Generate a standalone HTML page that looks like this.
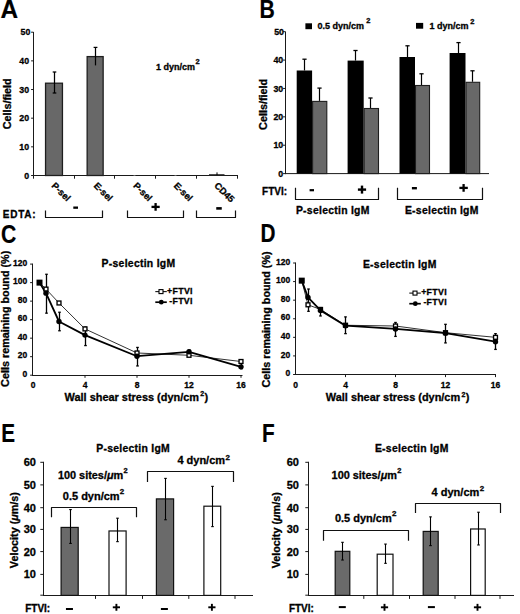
<!DOCTYPE html>
<html><head><meta charset="utf-8"><style>
html,body{margin:0;padding:0;background:#fff;}
body{width:520px;height:614px;overflow:hidden;}
svg{display:block;}
text{font-family:"Liberation Sans", sans-serif;font-weight:bold;fill:#000;stroke:#000;stroke-width:0.3px;}
text.big{stroke-width:0.2px;}
</style></head><body>
<svg width="520" height="614" viewBox="0 0 520 614">
<rect x="0" y="0" width="520" height="614" fill="#fff"/>
<text x="0.4" y="17.8" font-size="25" textLength="17.60" lengthAdjust="spacingAndGlyphs" class="big">A</text>
<line x1="33.50" y1="32.00" x2="33.50" y2="176.00" stroke="#1a1a1a" stroke-width="1.0"/>
<line x1="31.10" y1="175.50" x2="33.50" y2="175.50" stroke="#1a1a1a" stroke-width="1.0"/>
<text x="29.1" y="178.6" font-size="8.8" text-anchor="end">0</text>
<line x1="31.10" y1="146.84" x2="33.50" y2="146.84" stroke="#1a1a1a" stroke-width="1.0"/>
<text x="29.1" y="149.94" font-size="8.8" text-anchor="end">10</text>
<line x1="31.10" y1="118.18" x2="33.50" y2="118.18" stroke="#1a1a1a" stroke-width="1.0"/>
<text x="29.1" y="121.28" font-size="8.8" text-anchor="end">20</text>
<line x1="31.10" y1="89.52" x2="33.50" y2="89.52" stroke="#1a1a1a" stroke-width="1.0"/>
<text x="29.1" y="92.62" font-size="8.8" text-anchor="end">30</text>
<line x1="31.10" y1="60.86" x2="33.50" y2="60.86" stroke="#1a1a1a" stroke-width="1.0"/>
<text x="29.1" y="63.96" font-size="8.8" text-anchor="end">40</text>
<line x1="31.10" y1="32.20" x2="33.50" y2="32.20" stroke="#1a1a1a" stroke-width="1.0"/>
<text x="30.3" y="35.3" font-size="8.8" text-anchor="end">50</text>
<text x="11.0" y="103.8" font-size="10.8" text-anchor="middle" transform="rotate(-90 11.0 103.8)">Cells/field</text>
<line x1="33.00" y1="175.50" x2="238.00" y2="175.50" stroke="#1a1a1a" stroke-width="1.0"/>
<line x1="33.50" y1="175.50" x2="33.50" y2="178.70" stroke="#1a1a1a" stroke-width="1.0"/>
<line x1="74.50" y1="175.50" x2="74.50" y2="178.70" stroke="#1a1a1a" stroke-width="1.0"/>
<line x1="114.50" y1="175.50" x2="114.50" y2="178.70" stroke="#1a1a1a" stroke-width="1.0"/>
<line x1="155.50" y1="175.50" x2="155.50" y2="178.70" stroke="#1a1a1a" stroke-width="1.0"/>
<line x1="196.50" y1="175.50" x2="196.50" y2="178.70" stroke="#1a1a1a" stroke-width="1.0"/>
<line x1="237.50" y1="175.50" x2="237.50" y2="178.70" stroke="#1a1a1a" stroke-width="1.0"/>
<rect x="45.55" y="83.20" width="16.90" height="92.30" fill="#686868" stroke="#1e1e1e" stroke-width="1.3"/>
<rect x="87.15" y="56.60" width="16.00" height="118.90" fill="#686868" stroke="#1e1e1e" stroke-width="1.3"/>
<rect x="133.50" y="175.00" width="2.00" height="0.80" fill="#777"/>
<rect x="174.50" y="175.00" width="2.00" height="0.80" fill="#777"/>
<rect x="209.00" y="174.20" width="15.50" height="1.40" fill="#222"/>
<line x1="54.50" y1="72.00" x2="54.50" y2="93.00" stroke="#000" stroke-width="1.25"/>
<line x1="52.70" y1="72.00" x2="56.30" y2="72.00" stroke="#000" stroke-width="1.25"/>
<line x1="52.70" y1="93.00" x2="56.30" y2="93.00" stroke="#000" stroke-width="1.25"/>
<line x1="95.50" y1="47.40" x2="95.50" y2="65.40" stroke="#000" stroke-width="1.25"/>
<line x1="93.60" y1="47.40" x2="97.40" y2="47.40" stroke="#000" stroke-width="1.25"/>
<line x1="217.00" y1="172.40" x2="217.00" y2="175.00" stroke="#000" stroke-width="1.0"/>
<text x="51.0" y="186.2" font-size="9.3" transform="rotate(45 51.0 186.2)">P-sel</text>
<text x="93.2" y="186.2" font-size="9.3" transform="rotate(45 93.2 186.2)">E-sel</text>
<text x="132.7" y="186.2" font-size="9.3" transform="rotate(45 132.7 186.2)">P-sel</text>
<text x="173.2" y="186.2" font-size="9.3" transform="rotate(45 173.2 186.2)">E-sel</text>
<text x="213.8" y="186.2" font-size="9.3" transform="rotate(45 213.8 186.2)">CD45</text>
<text x="156.1" y="69.7" font-size="9">1 dyn/cm<tspan font-size="7.5" dx="0.4" dy="-5.3" letter-spacing="0">2</tspan></text>
<text x="2.8" y="218.1" font-size="10" letter-spacing="0.75">EDTA:</text>
<polyline points="45.50,210.40 45.50,217.50 102.50,217.50 102.50,210.40" fill="none" stroke="#111" stroke-width="1.2" stroke-linejoin="round"/>
<polyline points="127.50,210.40 127.50,217.50 183.50,217.50 183.50,210.40" fill="none" stroke="#111" stroke-width="1.2" stroke-linejoin="round"/>
<polyline points="196.50,210.40 196.50,217.50 235.50,217.50 235.50,210.40" fill="none" stroke="#111" stroke-width="1.2" stroke-linejoin="round"/>
<rect x="73.30" y="206.50" width="4.70" height="2.30" fill="#000"/>
<rect x="151.50" y="205.75" width="8.20" height="2.30" fill="#000"/>
<rect x="154.45" y="203.05" width="2.30" height="7.70" fill="#000"/>
<rect x="216.25" y="207.10" width="5.50" height="2.60" fill="#000"/>
<text x="259.5" y="17.9" font-size="25" textLength="15.30" lengthAdjust="spacingAndGlyphs" class="big">B</text>
<rect x="305.40" y="23.30" width="6.60" height="5.90" fill="#000"/>
<text x="317.6" y="28.6" font-size="9">0.5 dyn/cm<tspan font-size="7.5" dx="2.2" dy="-5.2" letter-spacing="0">2</tspan></text>
<rect x="416.00" y="22.90" width="7.20" height="5.80" fill="#000"/>
<text x="429.4" y="28.6" font-size="9">1 dyn/cm<tspan font-size="7.5" dx="1.8" dy="-4.2" letter-spacing="0">2</tspan></text>
<line x1="285.50" y1="31.60" x2="285.50" y2="174.10" stroke="#1a1a1a" stroke-width="1.0"/>
<line x1="283.10" y1="173.60" x2="285.50" y2="173.60" stroke="#1a1a1a" stroke-width="1.0"/>
<text x="283.2" y="176.7" font-size="8.8" text-anchor="end">0</text>
<line x1="283.10" y1="145.22" x2="285.50" y2="145.22" stroke="#1a1a1a" stroke-width="1.0"/>
<text x="283.2" y="148.32" font-size="8.8" text-anchor="end">10</text>
<line x1="283.10" y1="116.84" x2="285.50" y2="116.84" stroke="#1a1a1a" stroke-width="1.0"/>
<text x="283.2" y="119.94" font-size="8.8" text-anchor="end">20</text>
<line x1="283.10" y1="88.46" x2="285.50" y2="88.46" stroke="#1a1a1a" stroke-width="1.0"/>
<text x="283.2" y="91.56" font-size="8.8" text-anchor="end">30</text>
<line x1="283.10" y1="60.08" x2="285.50" y2="60.08" stroke="#1a1a1a" stroke-width="1.0"/>
<text x="283.2" y="63.18" font-size="8.8" text-anchor="end">40</text>
<line x1="283.10" y1="31.70" x2="285.50" y2="31.70" stroke="#1a1a1a" stroke-width="1.0"/>
<text x="284.0" y="34.8" font-size="8.8" text-anchor="end">50</text>
<text x="267.5" y="104.4" font-size="10.8" text-anchor="middle" transform="rotate(-90 267.5 104.4)">Cells/field</text>
<line x1="285.00" y1="173.60" x2="489.00" y2="173.60" stroke="#1a1a1a" stroke-width="1.0"/>
<line x1="304.50" y1="59.20" x2="304.50" y2="70.50" stroke="#000" stroke-width="1.2"/>
<line x1="302.40" y1="59.20" x2="306.60" y2="59.20" stroke="#000" stroke-width="1.3"/>
<line x1="319.50" y1="88.10" x2="319.50" y2="100.90" stroke="#000" stroke-width="1.2"/>
<line x1="317.40" y1="88.10" x2="321.60" y2="88.10" stroke="#000" stroke-width="1.3"/>
<line x1="355.50" y1="50.50" x2="355.50" y2="60.60" stroke="#000" stroke-width="1.2"/>
<line x1="353.40" y1="50.50" x2="357.60" y2="50.50" stroke="#000" stroke-width="1.3"/>
<line x1="370.50" y1="98.00" x2="370.50" y2="108.00" stroke="#000" stroke-width="1.2"/>
<line x1="368.40" y1="98.00" x2="372.60" y2="98.00" stroke="#000" stroke-width="1.3"/>
<line x1="407.50" y1="45.80" x2="407.50" y2="57.00" stroke="#000" stroke-width="1.2"/>
<line x1="405.40" y1="45.80" x2="409.60" y2="45.80" stroke="#000" stroke-width="1.3"/>
<line x1="421.50" y1="73.80" x2="421.50" y2="85.00" stroke="#000" stroke-width="1.2"/>
<line x1="419.40" y1="73.80" x2="423.60" y2="73.80" stroke="#000" stroke-width="1.3"/>
<line x1="458.50" y1="42.60" x2="458.50" y2="53.00" stroke="#000" stroke-width="1.2"/>
<line x1="456.40" y1="42.60" x2="460.60" y2="42.60" stroke="#000" stroke-width="1.3"/>
<line x1="472.50" y1="70.80" x2="472.50" y2="81.80" stroke="#000" stroke-width="1.2"/>
<line x1="470.40" y1="70.80" x2="474.60" y2="70.80" stroke="#000" stroke-width="1.3"/>
<rect x="296.70" y="70.50" width="15.40" height="103.10" fill="#000"/>
<rect x="312.60" y="101.40" width="14.20" height="72.20" fill="#686868" stroke="#1e1e1e" stroke-width="1.1"/>
<rect x="347.60" y="60.60" width="16.10" height="113.00" fill="#000"/>
<rect x="364.20" y="108.50" width="14.30" height="65.10" fill="#686868" stroke="#1e1e1e" stroke-width="1.1"/>
<rect x="399.50" y="57.00" width="15.50" height="116.60" fill="#000"/>
<rect x="415.50" y="85.50" width="14.00" height="88.10" fill="#686868" stroke="#1e1e1e" stroke-width="1.1"/>
<rect x="449.60" y="53.00" width="15.90" height="120.60" fill="#000"/>
<rect x="466.00" y="82.30" width="13.70" height="91.30" fill="#686868" stroke="#1e1e1e" stroke-width="1.1"/>
<text x="262.1" y="194.6" font-size="10">FTVI:</text>
<polyline points="295.50,187.70 295.50,199.50 378.50,199.50 378.50,187.70" fill="none" stroke="#111" stroke-width="1.2" stroke-linejoin="round"/>
<polyline points="397.50,187.70 397.50,199.50 482.50,199.50 482.50,187.70" fill="none" stroke="#111" stroke-width="1.2" stroke-linejoin="round"/>
<rect x="309.60" y="189.10" width="4.40" height="2.20" fill="#000"/>
<rect x="357.90" y="188.40" width="8.20" height="2.40" fill="#000"/>
<rect x="360.80" y="185.60" width="2.40" height="8.00" fill="#000"/>
<rect x="411.90" y="187.00" width="5.00" height="2.40" fill="#000"/>
<rect x="459.40" y="186.75" width="8.40" height="2.30" fill="#000"/>
<rect x="462.45" y="184.05" width="2.30" height="7.70" fill="#000"/>
<text x="295.9" y="213.9" font-size="10.4" letter-spacing="0.28">P-selectin IgM</text>
<text x="404.9" y="213.9" font-size="10.4" letter-spacing="0.28">E-selectin IgM</text>
<text x="0.9" y="243.3" font-size="25" textLength="15.30" lengthAdjust="spacingAndGlyphs" class="big">C</text>
<line x1="32.50" y1="263.60" x2="32.50" y2="375.70" stroke="#1a1a1a" stroke-width="1.0"/>
<line x1="30.10" y1="375.20" x2="32.50" y2="375.20" stroke="#1a1a1a" stroke-width="1.0"/>
<text x="27.3" y="376.8" font-size="8.5" text-anchor="end">0</text>
<line x1="30.10" y1="356.68" x2="32.50" y2="356.68" stroke="#1a1a1a" stroke-width="1.0"/>
<text x="27.3" y="358.28" font-size="8.5" text-anchor="end">20</text>
<line x1="30.10" y1="338.17" x2="32.50" y2="338.17" stroke="#1a1a1a" stroke-width="1.0"/>
<text x="27.3" y="339.77" font-size="8.5" text-anchor="end">40</text>
<line x1="30.10" y1="319.65" x2="32.50" y2="319.65" stroke="#1a1a1a" stroke-width="1.0"/>
<text x="27.3" y="321.25" font-size="8.5" text-anchor="end">60</text>
<line x1="30.10" y1="301.13" x2="32.50" y2="301.13" stroke="#1a1a1a" stroke-width="1.0"/>
<text x="27.3" y="302.73" font-size="8.5" text-anchor="end">80</text>
<line x1="30.10" y1="282.62" x2="32.50" y2="282.62" stroke="#1a1a1a" stroke-width="1.0"/>
<text x="27.3" y="284.22" font-size="8.5" text-anchor="end">100</text>
<line x1="30.10" y1="264.10" x2="32.50" y2="264.10" stroke="#1a1a1a" stroke-width="1.0"/>
<text x="27.3" y="265.7" font-size="8.5" text-anchor="end">120</text>
<line x1="32.00" y1="375.50" x2="242.50" y2="375.50" stroke="#1a1a1a" stroke-width="1.0"/>
<line x1="85.00" y1="375.20" x2="85.00" y2="377.80" stroke="#1a1a1a" stroke-width="1.0"/>
<line x1="137.00" y1="375.20" x2="137.00" y2="377.80" stroke="#1a1a1a" stroke-width="1.0"/>
<line x1="189.00" y1="375.20" x2="189.00" y2="377.80" stroke="#1a1a1a" stroke-width="1.0"/>
<line x1="241.00" y1="375.20" x2="241.00" y2="377.80" stroke="#1a1a1a" stroke-width="1.0"/>
<text x="33.0" y="388.2" font-size="8.5" text-anchor="middle">0</text>
<text x="85.0" y="388.2" font-size="8.5" text-anchor="middle">4</text>
<text x="137.0" y="388.2" font-size="8.5" text-anchor="middle">8</text>
<text x="189.0" y="388.2" font-size="8.5" text-anchor="middle">12</text>
<text x="241.0" y="388.2" font-size="8.5" text-anchor="middle">16</text>
<line x1="46.50" y1="274.28" x2="46.50" y2="313.17" stroke="#000" stroke-width="1.3"/>
<line x1="45.20" y1="274.28" x2="47.80" y2="274.28" stroke="#000" stroke-width="1.3"/>
<line x1="45.20" y1="313.17" x2="47.80" y2="313.17" stroke="#000" stroke-width="1.3"/>
<line x1="59.50" y1="312.24" x2="59.50" y2="330.76" stroke="#000" stroke-width="1.3"/>
<line x1="58.20" y1="312.24" x2="60.80" y2="312.24" stroke="#000" stroke-width="1.3"/>
<line x1="58.20" y1="330.76" x2="60.80" y2="330.76" stroke="#000" stroke-width="1.3"/>
<line x1="85.50" y1="327.06" x2="85.50" y2="345.57" stroke="#000" stroke-width="1.3"/>
<line x1="84.20" y1="327.06" x2="86.80" y2="327.06" stroke="#000" stroke-width="1.3"/>
<line x1="84.20" y1="345.57" x2="86.80" y2="345.57" stroke="#000" stroke-width="1.3"/>
<line x1="137.50" y1="347.43" x2="137.50" y2="365.94" stroke="#000" stroke-width="1.3"/>
<line x1="136.20" y1="347.43" x2="138.80" y2="347.43" stroke="#000" stroke-width="1.3"/>
<line x1="136.20" y1="365.94" x2="138.80" y2="365.94" stroke="#000" stroke-width="1.3"/>
<line x1="189.50" y1="350.20" x2="189.50" y2="354.83" stroke="#000" stroke-width="1.3"/>
<line x1="188.20" y1="350.20" x2="190.80" y2="350.20" stroke="#000" stroke-width="1.3"/>
<line x1="188.20" y1="354.83" x2="190.80" y2="354.83" stroke="#000" stroke-width="1.3"/>
<line x1="241.50" y1="360.39" x2="241.50" y2="368.72" stroke="#000" stroke-width="1.3"/>
<line x1="240.20" y1="360.39" x2="242.80" y2="360.39" stroke="#000" stroke-width="1.3"/>
<line x1="240.20" y1="368.72" x2="242.80" y2="368.72" stroke="#000" stroke-width="1.3"/>
<polyline points="39.50,282.62 46.00,289.10 59.00,302.99 85.00,328.91 137.00,352.98 189.00,355.29 241.00,361.50" fill="none" stroke="#333" stroke-width="1.0" stroke-linejoin="round"/>
<polyline points="39.50,282.62 46.00,293.17 59.00,321.50 85.00,335.11 137.00,356.22 189.00,351.78 241.00,366.87" fill="none" stroke="#000" stroke-width="1.8" stroke-linejoin="round"/>
<rect x="36.50" y="279.62" width="6.00" height="6.00" fill="#000"/>
<rect x="44.05" y="287.15" width="3.90" height="3.90" fill="#fff" stroke="#000" stroke-width="1.35"/>
<rect x="57.05" y="301.04" width="3.90" height="3.90" fill="#fff" stroke="#000" stroke-width="1.35"/>
<rect x="83.05" y="326.96" width="3.90" height="3.90" fill="#fff" stroke="#000" stroke-width="1.35"/>
<rect x="135.05" y="351.03" width="3.90" height="3.90" fill="#fff" stroke="#000" stroke-width="1.35"/>
<rect x="187.05" y="353.34" width="3.90" height="3.90" fill="#fff" stroke="#000" stroke-width="1.35"/>
<rect x="239.05" y="359.55" width="3.90" height="3.90" fill="#fff" stroke="#000" stroke-width="1.35"/>
<circle cx="46.00" cy="293.17" r="2.7" fill="#000"/>
<circle cx="59.00" cy="321.50" r="2.7" fill="#000"/>
<circle cx="85.00" cy="335.11" r="2.7" fill="#000"/>
<circle cx="137.00" cy="356.22" r="2.7" fill="#000"/>
<circle cx="189.00" cy="351.78" r="2.7" fill="#000"/>
<circle cx="241.00" cy="366.87" r="2.7" fill="#000"/>
<text x="101.6" y="266.5" font-size="10.4" letter-spacing="0.28">P-selectin IgM</text>
<line x1="155.30" y1="291.60" x2="166.80" y2="291.60" stroke="#111" stroke-width="1.1"/>
<rect x="159.00" y="289.60" width="4.00" height="4.00" fill="#fff" stroke="#000" stroke-width="1.1"/>
<text x="192.8" y="293.9" font-size="8.8" text-anchor="end" letter-spacing="0.3">+FTVI</text>
<line x1="155.30" y1="302.20" x2="166.80" y2="302.20" stroke="#000" stroke-width="1.7"/>
<circle cx="161.30" cy="302.20" r="2.4" fill="#000"/>
<text x="192.8" y="303.7" font-size="8.8" text-anchor="end" letter-spacing="0.3">-FTVI</text>
<text x="9.3" y="318.8" font-size="10.8" text-anchor="middle" transform="rotate(-90 9.3 318.8)">Cells remaining bound (%)</text>
<text x="64.6" y="401.1" font-size="10.93">Wall shear stress (dyn/cm<tspan font-size="7" dx="1.3" dy="-4.8" letter-spacing="0">2</tspan><tspan dx="0.3" dy="4.8">)</tspan></text>
<text x="260.5" y="242.2" font-size="25" textLength="15.00" lengthAdjust="spacingAndGlyphs" class="big">D</text>
<line x1="295.50" y1="262.50" x2="295.50" y2="375.00" stroke="#1a1a1a" stroke-width="1.0"/>
<line x1="293.10" y1="374.50" x2="295.50" y2="374.50" stroke="#1a1a1a" stroke-width="1.0"/>
<text x="290.3" y="376.1" font-size="8.5" text-anchor="end">0</text>
<line x1="293.10" y1="355.92" x2="295.50" y2="355.92" stroke="#1a1a1a" stroke-width="1.0"/>
<text x="290.3" y="357.52" font-size="8.5" text-anchor="end">20</text>
<line x1="293.10" y1="337.33" x2="295.50" y2="337.33" stroke="#1a1a1a" stroke-width="1.0"/>
<text x="290.3" y="338.93" font-size="8.5" text-anchor="end">40</text>
<line x1="293.10" y1="318.75" x2="295.50" y2="318.75" stroke="#1a1a1a" stroke-width="1.0"/>
<text x="290.3" y="320.35" font-size="8.5" text-anchor="end">60</text>
<line x1="293.10" y1="300.17" x2="295.50" y2="300.17" stroke="#1a1a1a" stroke-width="1.0"/>
<text x="290.3" y="301.77" font-size="8.5" text-anchor="end">80</text>
<line x1="293.10" y1="281.58" x2="295.50" y2="281.58" stroke="#1a1a1a" stroke-width="1.0"/>
<text x="290.3" y="283.18" font-size="8.5" text-anchor="end">100</text>
<line x1="293.10" y1="263.00" x2="295.50" y2="263.00" stroke="#1a1a1a" stroke-width="1.0"/>
<text x="290.3" y="264.6" font-size="8.5" text-anchor="end">120</text>
<line x1="295.00" y1="374.50" x2="496.00" y2="374.50" stroke="#1a1a1a" stroke-width="1.0"/>
<line x1="345.50" y1="374.50" x2="345.50" y2="377.10" stroke="#1a1a1a" stroke-width="1.0"/>
<line x1="395.50" y1="374.50" x2="395.50" y2="377.10" stroke="#1a1a1a" stroke-width="1.0"/>
<line x1="445.50" y1="374.50" x2="445.50" y2="377.10" stroke="#1a1a1a" stroke-width="1.0"/>
<line x1="495.50" y1="374.50" x2="495.50" y2="377.10" stroke="#1a1a1a" stroke-width="1.0"/>
<text x="295.5" y="387.5" font-size="8.5" text-anchor="middle">0</text>
<text x="345.5" y="387.5" font-size="8.5" text-anchor="middle">4</text>
<text x="395.5" y="387.5" font-size="8.5" text-anchor="middle">8</text>
<text x="445.5" y="387.5" font-size="8.5" text-anchor="middle">12</text>
<text x="495.5" y="387.5" font-size="8.5" text-anchor="middle">16</text>
<line x1="308.50" y1="289.02" x2="308.50" y2="311.32" stroke="#000" stroke-width="1.3"/>
<line x1="307.20" y1="289.02" x2="309.80" y2="289.02" stroke="#000" stroke-width="1.3"/>
<line x1="307.20" y1="311.32" x2="309.80" y2="311.32" stroke="#000" stroke-width="1.3"/>
<line x1="320.50" y1="307.60" x2="320.50" y2="315.96" stroke="#000" stroke-width="1.3"/>
<line x1="319.20" y1="307.60" x2="321.80" y2="307.60" stroke="#000" stroke-width="1.3"/>
<line x1="319.20" y1="315.96" x2="321.80" y2="315.96" stroke="#000" stroke-width="1.3"/>
<line x1="345.50" y1="316.89" x2="345.50" y2="333.62" stroke="#000" stroke-width="1.3"/>
<line x1="344.20" y1="316.89" x2="346.80" y2="316.89" stroke="#000" stroke-width="1.3"/>
<line x1="344.20" y1="333.62" x2="346.80" y2="333.62" stroke="#000" stroke-width="1.3"/>
<line x1="395.50" y1="322.47" x2="395.50" y2="336.40" stroke="#000" stroke-width="1.3"/>
<line x1="394.20" y1="322.47" x2="396.80" y2="322.47" stroke="#000" stroke-width="1.3"/>
<line x1="394.20" y1="336.40" x2="396.80" y2="336.40" stroke="#000" stroke-width="1.3"/>
<line x1="445.50" y1="324.32" x2="445.50" y2="342.91" stroke="#000" stroke-width="1.3"/>
<line x1="444.20" y1="324.32" x2="446.80" y2="324.32" stroke="#000" stroke-width="1.3"/>
<line x1="444.20" y1="342.91" x2="446.80" y2="342.91" stroke="#000" stroke-width="1.3"/>
<line x1="495.50" y1="333.62" x2="495.50" y2="349.41" stroke="#000" stroke-width="1.3"/>
<line x1="494.20" y1="333.62" x2="496.80" y2="333.62" stroke="#000" stroke-width="1.3"/>
<line x1="494.20" y1="349.41" x2="496.80" y2="349.41" stroke="#000" stroke-width="1.3"/>
<polyline points="301.75,280.65 308.00,304.81 320.50,309.46 345.50,325.25 395.50,326.00 445.50,332.69 495.50,337.33" fill="none" stroke="#333" stroke-width="1.0" stroke-linejoin="round"/>
<polyline points="301.75,280.65 308.00,297.38 320.50,310.39 345.50,325.72 395.50,328.97 445.50,333.15 495.50,341.70" fill="none" stroke="#000" stroke-width="1.8" stroke-linejoin="round"/>
<rect x="298.75" y="277.65" width="6.00" height="6.00" fill="#000"/>
<rect x="306.05" y="302.86" width="3.90" height="3.90" fill="#fff" stroke="#000" stroke-width="1.35"/>
<rect x="318.55" y="307.51" width="3.90" height="3.90" fill="#fff" stroke="#000" stroke-width="1.35"/>
<rect x="343.55" y="323.30" width="3.90" height="3.90" fill="#fff" stroke="#000" stroke-width="1.35"/>
<rect x="393.55" y="324.05" width="3.90" height="3.90" fill="#fff" stroke="#000" stroke-width="1.35"/>
<rect x="443.55" y="330.74" width="3.90" height="3.90" fill="#fff" stroke="#000" stroke-width="1.35"/>
<rect x="493.55" y="335.38" width="3.90" height="3.90" fill="#fff" stroke="#000" stroke-width="1.35"/>
<circle cx="308.00" cy="297.38" r="2.7" fill="#000"/>
<circle cx="320.50" cy="310.39" r="2.7" fill="#000"/>
<circle cx="345.50" cy="325.72" r="2.7" fill="#000"/>
<circle cx="395.50" cy="328.97" r="2.7" fill="#000"/>
<circle cx="445.50" cy="333.15" r="2.7" fill="#000"/>
<circle cx="495.50" cy="341.70" r="2.7" fill="#000"/>
<text x="362.9" y="267.7" font-size="10.4" letter-spacing="0.28">E-selectin IgM</text>
<line x1="409.30" y1="293.10" x2="420.80" y2="293.10" stroke="#111" stroke-width="1.1"/>
<rect x="413.00" y="291.10" width="4.00" height="4.00" fill="#fff" stroke="#000" stroke-width="1.1"/>
<text x="446.9" y="295.4" font-size="8.8" text-anchor="end" letter-spacing="0.3">+FTVI</text>
<line x1="409.30" y1="303.70" x2="420.80" y2="303.70" stroke="#000" stroke-width="1.7"/>
<circle cx="415.30" cy="303.70" r="2.4" fill="#000"/>
<text x="446.9" y="305.2" font-size="8.8" text-anchor="end" letter-spacing="0.3">-FTVI</text>
<text x="269.7" y="319.5" font-size="10.8" text-anchor="middle" transform="rotate(-90 269.7 319.5)">Cells remaining bound (%)</text>
<text x="325.8" y="401.4" font-size="10.93">Wall shear stress (dyn/cm<tspan font-size="7" dx="1.3" dy="-4.8" letter-spacing="0">2</tspan><tspan dx="0.3" dy="4.8">)</tspan></text>
<text x="1.2" y="442.2" font-size="25" textLength="13.80" lengthAdjust="spacingAndGlyphs" class="big">E</text>
<line x1="43.50" y1="461.80" x2="43.50" y2="595.90" stroke="#1a1a1a" stroke-width="1.0"/>
<line x1="40.30" y1="595.20" x2="43.50" y2="595.20" stroke="#1a1a1a" stroke-width="1.0"/>
<line x1="40.30" y1="574.40" x2="43.50" y2="574.40" stroke="#1a1a1a" stroke-width="1.0"/>
<text x="36.0" y="578.3" font-size="11" text-anchor="end">10</text>
<line x1="40.30" y1="551.60" x2="43.50" y2="551.60" stroke="#1a1a1a" stroke-width="1.0"/>
<text x="36.0" y="555.5" font-size="11" text-anchor="end">20</text>
<line x1="40.30" y1="529.40" x2="43.50" y2="529.40" stroke="#1a1a1a" stroke-width="1.0"/>
<text x="36.0" y="533.3" font-size="11" text-anchor="end">30</text>
<line x1="40.30" y1="507.70" x2="43.50" y2="507.70" stroke="#1a1a1a" stroke-width="1.0"/>
<text x="36.0" y="511.6" font-size="11" text-anchor="end">40</text>
<line x1="40.30" y1="484.90" x2="43.50" y2="484.90" stroke="#1a1a1a" stroke-width="1.0"/>
<text x="36.0" y="488.8" font-size="11" text-anchor="end">50</text>
<line x1="40.30" y1="462.30" x2="43.50" y2="462.30" stroke="#1a1a1a" stroke-width="1.0"/>
<text x="36.0" y="466.2" font-size="11" text-anchor="end">60</text>
<line x1="43.00" y1="595.50" x2="253.00" y2="595.50" stroke="#1a1a1a" stroke-width="1.0"/>
<line x1="95.50" y1="595.40" x2="95.50" y2="598.90" stroke="#1a1a1a" stroke-width="1.0"/>
<line x1="142.50" y1="595.40" x2="142.50" y2="598.90" stroke="#1a1a1a" stroke-width="1.0"/>
<line x1="188.80" y1="595.40" x2="188.80" y2="598.90" stroke="#1a1a1a" stroke-width="1.0"/>
<line x1="235.00" y1="595.40" x2="235.00" y2="598.90" stroke="#1a1a1a" stroke-width="1.0"/>
<rect x="61.10" y="527.43" width="17.10" height="67.97" fill="#6a6a6a" stroke="#111" stroke-width="1.2"/>
<rect x="109.00" y="530.97" width="17.10" height="64.43" fill="#fff" stroke="#111" stroke-width="1.2"/>
<rect x="156.40" y="498.89" width="17.20" height="96.51" fill="#6a6a6a" stroke="#111" stroke-width="1.2"/>
<rect x="203.90" y="506.19" width="16.80" height="89.21" fill="#fff" stroke="#111" stroke-width="1.2"/>
<line x1="70.50" y1="509.57" x2="70.50" y2="543.42" stroke="#000" stroke-width="1.1"/>
<line x1="69.20" y1="509.57" x2="71.80" y2="509.57" stroke="#000" stroke-width="1.1"/>
<line x1="69.20" y1="543.42" x2="71.80" y2="543.42" stroke="#000" stroke-width="1.1"/>
<line x1="117.50" y1="518.20" x2="117.50" y2="541.65" stroke="#000" stroke-width="1.1"/>
<line x1="116.20" y1="518.20" x2="118.80" y2="518.20" stroke="#000" stroke-width="1.1"/>
<line x1="116.20" y1="541.65" x2="118.80" y2="541.65" stroke="#000" stroke-width="1.1"/>
<line x1="165.50" y1="478.39" x2="165.50" y2="519.75" stroke="#000" stroke-width="1.1"/>
<line x1="164.20" y1="478.39" x2="166.80" y2="478.39" stroke="#000" stroke-width="1.1"/>
<line x1="164.20" y1="519.75" x2="166.80" y2="519.75" stroke="#000" stroke-width="1.1"/>
<line x1="212.50" y1="486.35" x2="212.50" y2="526.61" stroke="#000" stroke-width="1.1"/>
<line x1="211.20" y1="486.35" x2="213.80" y2="486.35" stroke="#000" stroke-width="1.1"/>
<line x1="211.20" y1="526.61" x2="213.80" y2="526.61" stroke="#000" stroke-width="1.1"/>
<text x="96.2" y="452.25" font-size="10.4" letter-spacing="0.28">P-selectin IgM</text>
<text x="18.0" y="530.1" font-size="10.8" text-anchor="middle" transform="rotate(-90 18.0 530.1)">Velocity (<tspan font-style="italic">μ</tspan>m/s)</text>
<polyline points="51.50,517.30 51.50,507.50 136.50,507.50 136.50,517.30" fill="none" stroke="#111" stroke-width="1.2" stroke-linejoin="round"/>
<polyline points="147.50,482.00 147.50,471.50 233.50,471.50 233.50,482.00" fill="none" stroke="#111" stroke-width="1.2" stroke-linejoin="round"/>
<text x="57.9" y="478.8" font-size="10.9">100 sites/<tspan font-style="italic">μ</tspan>m<tspan font-size="7.5" dx="0.3" dy="-6.3" letter-spacing="0">2</tspan></text>
<text x="62.8" y="499.6" font-size="11">0.5 dyn/cm<tspan font-size="8" dx="0.2" dy="-5.4" letter-spacing="0">2</tspan></text>
<text x="177.4" y="464.3" font-size="11">4 dyn/cm<tspan font-size="8" dx="0.4" dy="-4.8" letter-spacing="0">2</tspan></text>
<text x="25.2" y="612.4" font-size="10">FTVI:</text>
<rect x="65.95" y="608.00" width="7.00" height="2.00" fill="#000"/>
<rect x="112.80" y="606.35" width="7.20" height="1.90" fill="#000"/>
<rect x="115.45" y="603.85" width="1.90" height="6.90" fill="#000"/>
<rect x="160.90" y="608.00" width="7.00" height="2.00" fill="#000"/>
<rect x="208.30" y="606.35" width="7.20" height="1.90" fill="#000"/>
<rect x="210.95" y="603.85" width="1.90" height="6.90" fill="#000"/>
<text x="261.9" y="441.9" font-size="25" textLength="12.70" lengthAdjust="spacingAndGlyphs" class="big">F</text>
<line x1="308.50" y1="461.80" x2="308.50" y2="595.90" stroke="#1a1a1a" stroke-width="1.0"/>
<line x1="305.30" y1="595.20" x2="308.50" y2="595.20" stroke="#1a1a1a" stroke-width="1.0"/>
<line x1="305.30" y1="574.40" x2="308.50" y2="574.40" stroke="#1a1a1a" stroke-width="1.0"/>
<text x="299.0" y="578.3" font-size="11" text-anchor="end">10</text>
<line x1="305.30" y1="551.60" x2="308.50" y2="551.60" stroke="#1a1a1a" stroke-width="1.0"/>
<text x="299.0" y="555.5" font-size="11" text-anchor="end">20</text>
<line x1="305.30" y1="529.40" x2="308.50" y2="529.40" stroke="#1a1a1a" stroke-width="1.0"/>
<text x="299.0" y="533.3" font-size="11" text-anchor="end">30</text>
<line x1="305.30" y1="507.70" x2="308.50" y2="507.70" stroke="#1a1a1a" stroke-width="1.0"/>
<text x="299.0" y="511.6" font-size="11" text-anchor="end">40</text>
<line x1="305.30" y1="484.90" x2="308.50" y2="484.90" stroke="#1a1a1a" stroke-width="1.0"/>
<text x="299.0" y="488.8" font-size="11" text-anchor="end">50</text>
<line x1="305.30" y1="462.30" x2="308.50" y2="462.30" stroke="#1a1a1a" stroke-width="1.0"/>
<text x="299.0" y="466.2" font-size="11" text-anchor="end">60</text>
<line x1="308.00" y1="595.50" x2="514.00" y2="595.50" stroke="#1a1a1a" stroke-width="1.0"/>
<line x1="363.80" y1="595.40" x2="363.80" y2="598.90" stroke="#1a1a1a" stroke-width="1.0"/>
<line x1="409.50" y1="595.40" x2="409.50" y2="598.90" stroke="#1a1a1a" stroke-width="1.0"/>
<line x1="455.00" y1="595.40" x2="455.00" y2="598.90" stroke="#1a1a1a" stroke-width="1.0"/>
<line x1="500.00" y1="595.40" x2="500.00" y2="598.90" stroke="#1a1a1a" stroke-width="1.0"/>
<rect x="335.20" y="551.32" width="14.60" height="44.08" fill="#6a6a6a" stroke="#111" stroke-width="1.2"/>
<rect x="377.20" y="554.19" width="15.80" height="41.21" fill="#fff" stroke="#111" stroke-width="1.2"/>
<rect x="423.20" y="531.41" width="15.00" height="63.99" fill="#6a6a6a" stroke="#111" stroke-width="1.2"/>
<rect x="470.60" y="528.98" width="14.60" height="66.42" fill="#fff" stroke="#111" stroke-width="1.2"/>
<line x1="342.50" y1="542.31" x2="342.50" y2="560.01" stroke="#000" stroke-width="1.1"/>
<line x1="341.20" y1="542.31" x2="343.80" y2="542.31" stroke="#000" stroke-width="1.1"/>
<line x1="341.20" y1="560.01" x2="343.80" y2="560.01" stroke="#000" stroke-width="1.1"/>
<line x1="385.50" y1="544.08" x2="385.50" y2="563.33" stroke="#000" stroke-width="1.1"/>
<line x1="384.20" y1="544.08" x2="386.80" y2="544.08" stroke="#000" stroke-width="1.1"/>
<line x1="384.20" y1="563.33" x2="386.80" y2="563.33" stroke="#000" stroke-width="1.1"/>
<line x1="430.50" y1="516.87" x2="430.50" y2="545.63" stroke="#000" stroke-width="1.1"/>
<line x1="429.20" y1="516.87" x2="431.80" y2="516.87" stroke="#000" stroke-width="1.1"/>
<line x1="429.20" y1="545.63" x2="431.80" y2="545.63" stroke="#000" stroke-width="1.1"/>
<line x1="478.50" y1="512.23" x2="478.50" y2="544.97" stroke="#000" stroke-width="1.1"/>
<line x1="477.20" y1="512.23" x2="479.80" y2="512.23" stroke="#000" stroke-width="1.1"/>
<line x1="477.20" y1="544.97" x2="479.80" y2="544.97" stroke="#000" stroke-width="1.1"/>
<text x="374.9" y="452.25" font-size="10.4" letter-spacing="0.28">E-selectin IgM</text>
<text x="279.9" y="530.3" font-size="10.8" text-anchor="middle" transform="rotate(-90 279.9 530.3)">Velocity (<tspan font-style="italic">μ</tspan>m/s)</text>
<polyline points="323.50,540.80 323.50,530.50 408.50,530.50 408.50,540.80" fill="none" stroke="#111" stroke-width="1.2" stroke-linejoin="round"/>
<polyline points="415.50,513.00 415.50,503.50 500.50,503.50 500.50,513.00" fill="none" stroke="#111" stroke-width="1.2" stroke-linejoin="round"/>
<text x="331.6" y="478.8" font-size="10.9">100 sites/<tspan font-style="italic">μ</tspan>m<tspan font-size="7.5" dx="0.3" dy="-6.3" letter-spacing="0">2</tspan></text>
<text x="334.9" y="521.8" font-size="11">0.5 dyn/cm<tspan font-size="8" dx="0.2" dy="-5.4" letter-spacing="0">2</tspan></text>
<text x="431.6" y="496.2" font-size="11">4 dyn/cm<tspan font-size="8" dx="0.4" dy="-4.8" letter-spacing="0">2</tspan></text>
<text x="288.9" y="612.4" font-size="10">FTVI:</text>
<rect x="338.80" y="606.10" width="7.00" height="2.00" fill="#000"/>
<rect x="380.90" y="606.35" width="7.20" height="1.90" fill="#000"/>
<rect x="383.55" y="603.85" width="1.90" height="6.90" fill="#000"/>
<rect x="427.90" y="606.10" width="7.00" height="2.00" fill="#000"/>
<rect x="473.90" y="606.35" width="7.20" height="1.90" fill="#000"/>
<rect x="476.55" y="603.85" width="1.90" height="6.90" fill="#000"/>
</svg>
</body></html>
